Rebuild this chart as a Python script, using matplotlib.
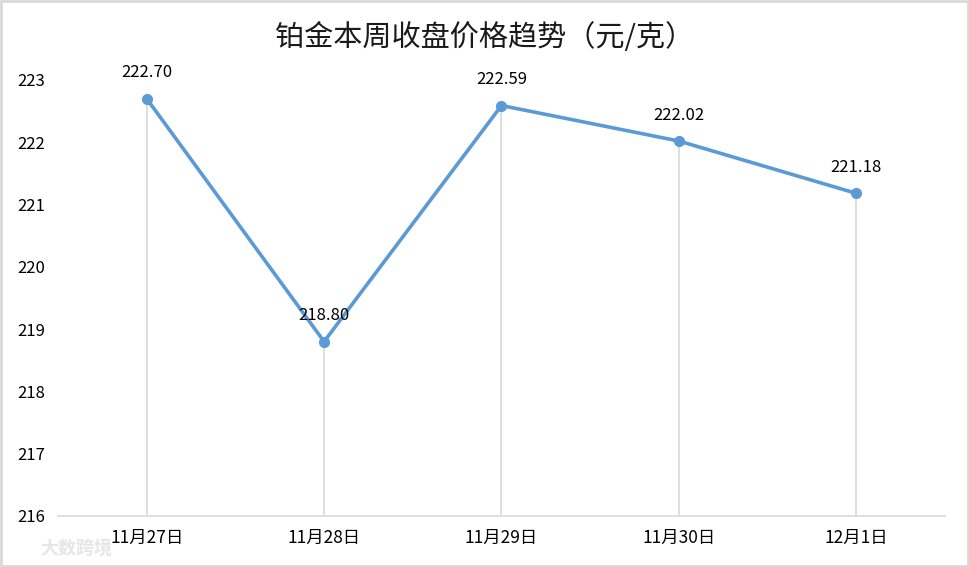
import matplotlib
matplotlib.use("Agg")
import matplotlib.pyplot as plt
from matplotlib.patches import Rectangle

plt.rcParams['font.family'] = ['Noto Sans CJK SC', 'DejaVu Sans']

categories = ["11月27日", "11月28日", "11月29日", "11月30日", "12月1日"]
values = [222.70, 218.80, 222.59, 222.02, 221.18]
yticks = [216, 217, 218, 219, 220, 221, 222, 223]
title = "铂金本周收盘价格趋势（元/克）"

fig = plt.figure(figsize=(9.69, 5.67), dpi=100)
ax = fig.add_axes([58/969, 1-516/567, (945-58)/969, (516-80)/567])

x = list(range(len(categories)))
line_color = "#5B9BD5"
ax.vlines(x, yticks[0], values, color="#D9D9D9", linewidth=1.2, zorder=1)
ax.plot(x, values, color=line_color, linewidth=2.6, marker="o", markersize=7,
        zorder=3, solid_capstyle="round")
for xi, v in zip(x, values):
    ax.annotate(f"{v:.2f}", (xi, v), xytext=(0, 18.5), textcoords="offset points",
                ha="center", va="center", fontsize=12, color="#000000")

ax.set_xlim(-0.5, len(categories) - 0.5)
ax.set_ylim(yticks[0], yticks[-1])
ax.set_yticks(yticks)
ax.set_xticks(x)
ax.set_xticklabels(categories, fontsize=12.5)
ax.set_yticklabels([str(t) for t in yticks], fontsize=12)
for s in ["top", "right", "left"]:
    ax.spines[s].set_visible(False)
ax.spines["bottom"].set_color("#D9D9D9")
ax.spines["bottom"].set_linewidth(1.2)
ax.tick_params(axis="both", length=0)
ax.tick_params(axis="y", pad=9.5)
ax.tick_params(axis="x", pad=9)

fig.text(0.5, 1-38/567, title, ha="center", va="center", fontsize=21, color="#1a1a1a")
fig.text(40/969, 1-548/567, "大数跨境", ha="left", va="center", fontsize=13,
         color="#E6E6E6", fontweight="bold", zorder=0)

fig.patches.append(Rectangle((0.001, 0.001), 0.998, 0.998, transform=fig.transFigure,
                             fill=False, edgecolor="#D9D9D9", linewidth=2))

fig.savefig("out.png", dpi=100)
